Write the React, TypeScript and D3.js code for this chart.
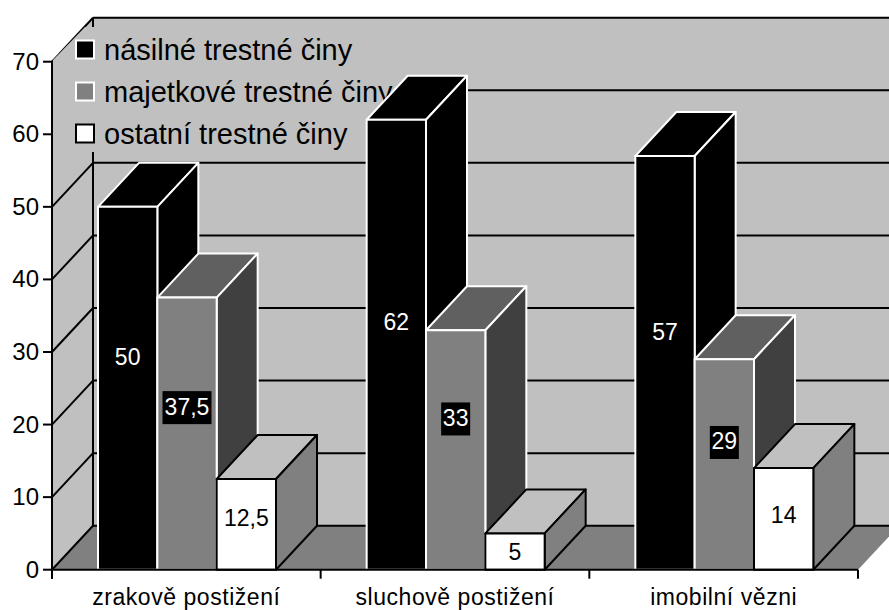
import React from "react";
import * as d3 from "d3";

const categories = ["zrakově postižení", "sluchově postižení", "imobilní vězni"];
const seriesNames = ["násilné trestné činy", "majetkové trestné činy", "ostatní trestné činy"];
const violent = [50, 62, 57];
const property = [37.5, 33, 29];
const other = [12.5, 5, 14];
const valueLabels = [["50", "62", "57"], ["37,5", "33", "29"], ["12,5", "5", "14"]];
const yTicks = [0, 10, 20, 30, 40, 50, 60, 70];

const W = 889, H = 610;
const DX = 41, DY = -44;
const LW = 2;
const x0 = d3.scaleBand<string>().domain(categories).range([52, 858]);
const x1 = d3.scaleBand<string>().domain(seriesNames).range([46, 224]);
const y = d3.scaleLinear().domain([0, 70]).range([569.7, 61.7]);
const values = [violent, property, other];
const styles = [
  { front: "#000", top: "#000", side: "#000", stroke: "#fff", text: "#fff", box: "none" },
  { front: "#808080", top: "#606060", side: "#404040", stroke: "#fff", text: "#fff", box: "#000" },
  { front: "#fff", top: "#c0c0c0", side: "#808080", stroke: "#000", text: "#000", box: "none" },
];
const labelLift = [[31, 23, 31], [27, 32, 23], [6.5, 0, 3.5]];
const font = "'Liberation Sans', Arial, sans-serif";
const poly = (p: number[][]) => p.map((q) => q.join(",")).join(" ");

export default function App() {
  const xL = 52, xR = 858, y0 = y(0), yT = y(70);
  return (
    <svg width={W} height={H} viewBox={`0 0 ${W} ${H}`} style={{ position: "absolute", left: 0, top: 0, background: "#fff" }} fontFamily={font}>
      <polygon points={poly([[xL, y0], [xL, yT], [xL + DX, yT + DY], [W, yT + DY], [W, y0 + DY], [xL + DX, y0 + DY]])} fill="#c0c0c0" />
      <polygon points={poly([[xL, y0], [xL + DX, y0 + DY], [xR + DX, y0 + DY], [xR, y0]])} fill="#808080" />
      {yTicks.map((t) => (
        <g key={t} stroke="#000" strokeWidth={LW}>
          <line x1={xL} y1={y(t)} x2={xL + DX} y2={y(t) + DY} />
          <line x1={xL + DX} y1={y(t) + DY} x2={W} y2={y(t) + DY} />
        </g>
      ))}
      <line x1={xL + DX} y1={yT + DY} x2={xL + DX} y2={y0 + DY} stroke="#000" strokeWidth={LW} />
      <polygon points={poly([[xL + 1, 152], [xL + 1, 60], [85, 27], [404, 27], [404, 152]])} fill="#c0c0c0" />
      {seriesNames.map((s, i) => (
        <g key={s}>
          <rect x={76} y={40.5 + i * 42} width={18} height={18} fill={styles[i].front} stroke={i === 2 ? "#000" : "#fff"} strokeWidth={LW} />
          <text x={104} y={60 + i * 42} fontSize={29} fill="#000">{s}</text>
        </g>
      ))}
      {categories.map((c, ci) =>
        seriesNames.map((s, si) => {
          const l = x0(c)! + x1(s)!;
          const r = l + x1.bandwidth();
          const v = values[si][ci];
          const t = y(v);
          const st = styles[si];
          const common = { stroke: st.stroke, strokeWidth: LW, strokeLinejoin: "round" as const };
          return (
            <g key={c + s}>
              <polygon points={poly([[l, t], [l + DX, t + DY], [r + DX, t + DY], [r, t]])} fill={st.top} {...common} />
              <polygon points={poly([[r, t], [r + DX, t + DY], [r + DX, y0 + DY], [r, y0]])} fill={st.side} {...common} />
              <polygon points={poly([[l, t], [r, t], [r, y0], [l, y0]])} fill={st.front} {...common} />
            </g>
          );
        })
      )}
      {categories.map((c, ci) =>
        seriesNames.map((s, si) => {
          const cx = x0(c)! + x1(s)! + x1.bandwidth() / 2;
          const v = values[si][ci];
          const cy = (y(v) + y0) / 2 - labelLift[si][ci];
          const label = valueLabels[si][ci];
          const st = styles[si];
          const boxW = label.length > 2 ? 49 : 29;
          return (
            <g key={c + s + "l"}>
              {st.box !== "none" && <rect x={cx - boxW / 2} y={cy - 15.5} width={boxW} height={33} fill={st.box} />}
              <text x={cx} y={cy + 8} fontSize={23} textAnchor="middle" fill={st.text}>{label}</text>
            </g>
          );
        })
      )}
      <line x1={xL} y1={y0} x2={xR} y2={y0} stroke="#000" strokeWidth={2} />
      <line x1={xL} y1={yT} x2={xL} y2={y0 + 9} stroke="#000" strokeWidth={LW} />
      {yTicks.map((t) => (
        <g key={t}>
          <line x1={xL - 9} y1={y(t)} x2={xL} y2={y(t)} stroke="#000" strokeWidth={LW} />
          <text x={39} y={y(t) + 8} fontSize={24} textAnchor="end" fill="#000">{t}</text>
        </g>
      ))}
      {[...categories.map((c) => x0(c)!), xR].map((x) => (
        <line key={x} x1={x} y1={y0} x2={x} y2={y0 + 9} stroke="#000" strokeWidth={LW} />
      ))}
      {categories.map((c) => (
        <text key={c} x={x0(c)! + x0.bandwidth() / 2} y={605} fontSize={23} letterSpacing={0.55} textAnchor="middle" fill="#000">{c}</text>
      ))}
    </svg>
  );
}
